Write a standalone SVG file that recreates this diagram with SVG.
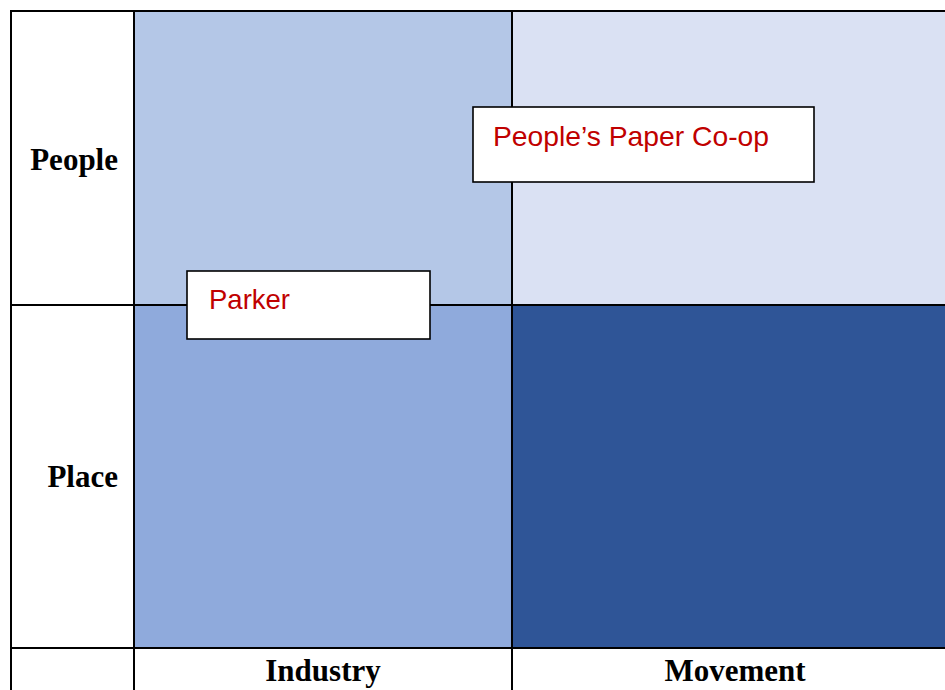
<svg xmlns="http://www.w3.org/2000/svg" width="945" height="690" viewBox="0 0 945 690">
<style>
.hdr{font-family:"Liberation Serif","Times New Roman",serif;font-weight:bold;font-size:31px;fill:#000}
.gl{stroke:#000;stroke-width:2;fill:none}
.box{fill:#fff;stroke:#000;stroke-width:1.6}
.lbl{font-family:"Liberation Sans",Arial,sans-serif;font-size:28px;fill:#C00000}
</style>
<rect x="0" y="0" width="945" height="690" fill="#fff"/>
<g id="quadrants">
<rect id="q-industry-people" x="134" y="11" width="378" height="294" fill="#B4C7E7"/>
<rect id="q-movement-people" x="512" y="11" width="433" height="294" fill="#DAE1F3"/>
<rect id="q-industry-place" x="134" y="305" width="378" height="343" fill="#8FAADC"/>
<rect id="q-movement-place" x="512" y="305" width="433" height="343" fill="#2F5597"/>
</g>
<g id="grid">
<line class="gl" x1="10" y1="11" x2="945" y2="11"/>
<line class="gl" x1="11" y1="10" x2="11" y2="690"/>
<line class="gl" x1="134" y1="10" x2="134" y2="690"/>
<line class="gl" x1="512" y1="10" x2="512" y2="690"/>
<line class="gl" x1="10" y1="305" x2="945" y2="305"/>
<line class="gl" x1="10" y1="648" x2="945" y2="648"/>
</g>
<g id="labels">
<text class="hdr" x="118" y="170" text-anchor="end">People</text>
<text class="hdr" x="118" y="487" text-anchor="end">Place</text>
<text class="hdr" x="323" y="681" text-anchor="middle">Industry</text>
<text class="hdr" x="735" y="681" text-anchor="middle">Movement</text>
</g>
<g id="parker">
<rect class="box" x="187" y="271" width="243" height="68"/>
<text class="lbl" x="209" y="309" textLength="81" lengthAdjust="spacingAndGlyphs">Parker</text>
</g>
<g id="peoples-paper-coop">
<rect class="box" x="473" y="107" width="341" height="75"/>
<text class="lbl" x="493" y="146" textLength="276" lengthAdjust="spacingAndGlyphs">People’s Paper Co-op</text>
</g>
</svg>
